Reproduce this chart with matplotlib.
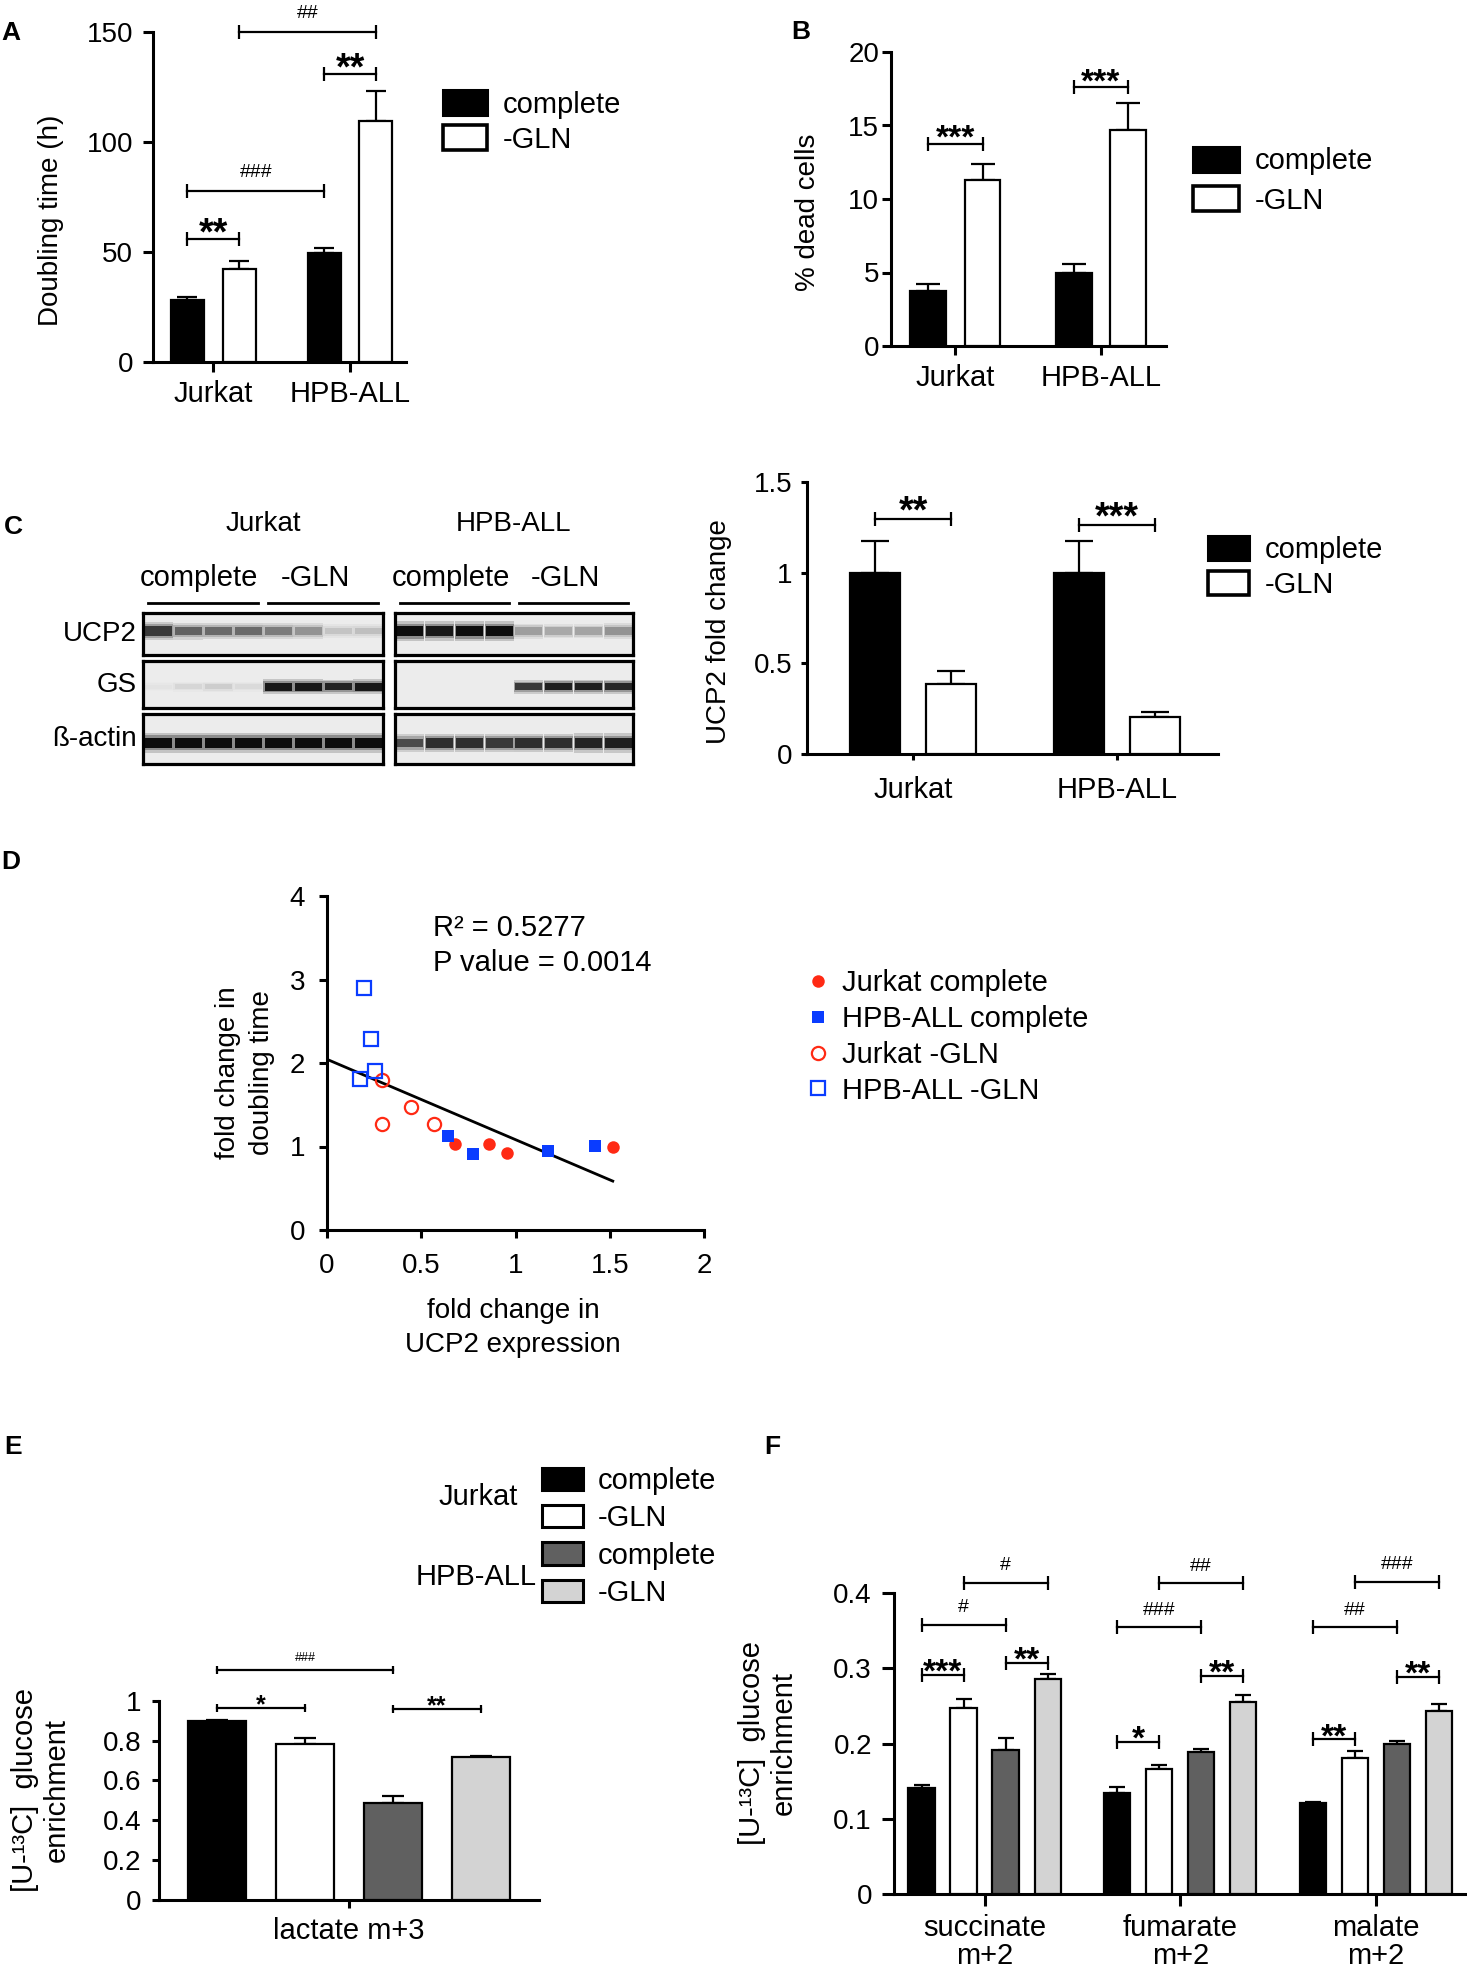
import numpy as np
import matplotlib
matplotlib.use('Agg')
import matplotlib.pyplot as plt
from matplotlib.patches import Patch
from matplotlib.lines import Line2D

plt.rcParams['font.family'] = ['Liberation Sans', 'DejaVu Sans']

W, H, DPI = 1467, 1972, 100

# ---------------- data ----------------
cell_lines = ['Jurkat', 'HPB-ALL']
condition_labels = ['complete', '-GLN']

# A: doubling time (h)
a_complete = [28.2, 49.5]
a_complete_err = [1.3, 2.3]
a_gln = [42.3, 109.5]
a_gln_err = [3.7, 13.5]
a_sig = [((0, 0), (0, 1), 56.0, '**'), ((0, 0), (1, 0), 77.7, '###'),
         ((0, 1), (1, 1), 150.0, '##'), ((1, 0), (1, 1), 131.0, '**')]
a_yticks = [0, 50, 100, 150]

# B: % dead cells
b_complete = [3.74, 5.0]
b_complete_err = [0.46, 0.6]
b_gln = [11.3, 14.7]
b_gln_err = [1.1, 1.8]
b_sig = [((0, 0), (0, 1), 13.75, '***'), ((1, 0), (1, 1), 17.6, '***')]
b_yticks = [0, 5, 10, 15, 20]

# C: UCP2 fold change
c_complete = [1.0, 1.0]
c_complete_err = [0.175, 0.175]
c_gln = [0.386, 0.204]
c_gln_err = [0.072, 0.028]
c_sig = [((0, 0), (0, 1), 1.296, '**'), ((1, 0), (1, 1), 1.263, '***')]
c_yticks = [0, 0.5, 1, 1.5]
c_yticklabels = ['0', '0.5', '1', '1.5']

# C: western blots, relative band intensity per lane (4 complete, 4 -GLN)
blot_proteins = ['UCP2', 'GS', 'ß-actin']
blot_jurkat = [[0.80, 0.62, 0.58, 0.58, 0.50, 0.40, 0.18, 0.20],
               [0.04, 0.10, 0.14, 0.08, 0.95, 0.95, 0.90, 0.95],
               [1.00, 1.00, 1.00, 1.00, 1.00, 1.00, 1.00, 1.00]]
blot_hpb = [[1.00, 0.95, 1.00, 1.00, 0.35, 0.30, 0.32, 0.40],
            [0.00, 0.00, 0.00, 0.00, 0.80, 0.92, 0.92, 0.88],
            [0.72, 0.85, 0.85, 0.80, 0.85, 0.85, 0.90, 0.92]]

# D: scatter, fold change UCP2 expression (x) vs doubling time (y)
d_jurkat_complete_x = [0.68, 0.857, 0.954, 1.516]
d_jurkat_complete_y = [1.024, 1.028, 0.924, 0.996]
d_hpb_complete_x = [0.641, 0.777, 1.17, 1.422]
d_hpb_complete_y = [1.124, 0.916, 0.944, 1.004]
d_jurkat_gln_x = [0.292, 0.445, 0.292, 0.569]
d_jurkat_gln_y = [1.793, 1.474, 1.267, 1.267]
d_hpb_gln_x = [0.194, 0.233, 0.256, 0.177]
d_hpb_gln_y = [2.896, 2.29, 1.90, 1.805]
d_fit_intercept = 2.044
d_fit_slope = -0.962
d_r2_text = 'R² = 0.5277'
d_p_text = 'P value = 0.0014'
d_xticks = [0, 0.5, 1, 1.5, 2]
d_xticklabels = ['0', '0.5', '1', '1.5', '2']
d_yticks = [0, 1, 2, 3, 4]

# E: lactate m+3 enrichment
e_labels = ['complete', '-GLN', 'complete', '-GLN']
e_values = [0.898, 0.781, 0.488, 0.719]
e_err = [0.005, 0.033, 0.035, 0.006]
e_sig = [(0, 1, 0.961, '*'), (2, 3, 0.956, '**'), (0, 2, 1.154, '###')]
e_yticks = [0, 0.2, 0.4, 0.6, 0.8, 1.0]
e_yticklabels = ['0', '0.2', '0.4', '0.6', '0.8', '1']

# F: TCA metabolites m+2 enrichment
f_metabolites = ['succinate\nm+2', 'fumarate\nm+2', 'malate\nm+2']
f_jurkat_complete = [0.1415, 0.1348, 0.1206]
f_jurkat_complete_err = [0.0035, 0.008, 0.0022]
f_jurkat_gln = [0.248, 0.1659, 0.1805]
f_jurkat_gln_err = [0.012, 0.0053, 0.0093]
f_hpb_complete = [0.1916, 0.1885, 0.1996]
f_hpb_complete_err = [0.0154, 0.0048, 0.0044]
f_hpb_gln = [0.286, 0.2559, 0.2435]
f_hpb_gln_err = [0.0067, 0.0093, 0.0093]
f_sig = [(0, 0, 1, 0.2913, '***'), (0, 2, 3, 0.3078, '**'), (0, 0, 2, 0.358, '#'), (0, 1, 3, 0.4142, '#'),
         (1, 0, 1, 0.2027, '*'), (1, 2, 3, 0.2905, '**'), (1, 0, 2, 0.3548, '###'), (1, 1, 3, 0.4133, '##'),
         (2, 0, 1, 0.2058, '**'), (2, 2, 3, 0.2891, '**'), (2, 0, 2, 0.3548, '##'), (2, 1, 3, 0.4155, '###')]
f_yticks = [0, 0.1, 0.2, 0.3, 0.4]
f_yticklabels = ['0', '0.1', '0.2', '0.3', '0.4']

# colours
C_BLACK, C_WHITE, C_DARK, C_LIGHT = 'black', 'white', '#606060', '#d3d3d3'
C_RED, C_BLUE = '#ff2a14', '#0a3cff'

# ---------------- figure ----------------
fig = plt.figure(figsize=(W / DPI, H / DPI), dpi=DPI)
ov = fig.add_axes([0, 0, 1, 1], zorder=-10)
ov.set_xlim(0, W)
ov.set_ylim(H, 0)
ov.axis('off')


def add_ax(x0, y0, x1, y1):
    return fig.add_axes([x0 / W, 1 - y1 / H, (x1 - x0) / W, (y1 - y0) / H])


def style_axes(ax, lw=2.2, ylen=7, ypad=6, xlen=7, xpad=6, ysize=20, xsize=21):
    for s in ('top', 'right'):
        ax.spines[s].set_visible(False)
    for s in ('left', 'bottom'):
        ax.spines[s].set_linewidth(lw)
    ax.tick_params(axis='y', width=lw, length=ylen, pad=ypad, labelsize=ysize, direction='out')
    ax.tick_params(axis='x', width=lw, length=xlen, pad=xpad, labelsize=xsize, direction='out')


def bracket(ax, x1, x2, y, text, tick_ms, fs_star, fs_hash, star_off=-4, hash_off=9):
    ax.plot([x1, x2], [y, y], color='black', lw=1.6, marker='|', ms=tick_ms, mew=1.6,
            clip_on=False, zorder=5)
    star = text.startswith('*')
    ax.annotate(text, xy=((x1 + x2) / 2, y), xytext=(0, star_off if star else hash_off),
                textcoords='offset points', ha='center', va='baseline',
                fontsize=fs_star if star else fs_hash,
                fontweight='bold' if star else 'normal', annotation_clip=False)


def grouped_pair(ax, comp, comp_err, gln, gln_err, off, width, capsize):
    xs = np.arange(len(cell_lines))
    series = [(comp, comp_err, C_BLACK), (gln, gln_err, C_WHITE)]
    for c, (vals, errs, fc) in enumerate(series):
        pos = xs + (c - 0.5) * 2 * off
        ax.errorbar(pos, vals, yerr=[np.zeros(len(vals)), errs], fmt='none', ecolor='black',
                    elinewidth=1.6, capsize=capsize, capthick=1.6, zorder=2)
        ax.bar(pos, vals, width=width, color=fc, edgecolor='black', linewidth=1.6, zorder=3,
               label=condition_labels[c])
    ax.set_xticks(xs)
    ax.set_xticklabels(cell_lines)
    return lambda g, c: g + (c - 0.5) * 2 * off


def place_legend(ax, handles, labels, x, y_top, hl, hh, htp, ls, fs=21):
    return ax.legend(handles, labels, loc='upper left', bbox_to_anchor=(x, y_top),
                     bbox_transform=ov.transData, frameon=False, borderpad=0, borderaxespad=0,
                     fontsize=fs, handlelength=hl, handleheight=hh, handletextpad=htp,
                     labelspacing=ls)


pair_handles = [Patch(facecolor=C_BLACK, edgecolor='black', linewidth=2.2),
                Patch(facecolor=C_WHITE, edgecolor='black', linewidth=2.6)]

# ---- panel A ----
axA = add_ax(153, 32, 406, 362)
style_axes(axA, ylen=7.2, ypad=7, xlen=7.2, xpad=6)
posA = grouped_pair(axA, a_complete, a_complete_err, a_gln, a_gln_err, 0.1886, 0.242, 7.4)
axA.set_xlim(-0.441, 1.41)
axA.set_ylim(0, 150)
axA.set_yticks(a_yticks)
for (g1, c1), (g2, c2), y, t in a_sig:
    bracket(axA, posA(g1, c1), posA(g2, c2), y, t, 10.5, 27, 14, star_off=-4.3, hash_off=10)
axA.set_ylabel('Doubling time (h)', fontsize=20, va='center', ha='center')
axA.yaxis.set_label_coords(51, 220, transform=ov.transData)
place_legend(axA, pair_handles, condition_labels, 443, 90, 1.5, 0.96, 0.55, 0.21)

# ---- panel B ----
axB = add_ax(891.5, 52, 1165.5, 346)
style_axes(axB, ylen=6.8, ypad=2, xlen=6.8, xpad=6)
posB = grouped_pair(axB, b_complete, b_complete_err, b_gln, b_gln_err, 0.1864, 0.2455, 8.8)
axB.set_xlim(-0.4395, 1.445)
axB.set_ylim(0, 20)
axB.set_yticks(b_yticks)
for (g1, c1), (g2, c2), y, t in b_sig:
    bracket(axB, posB(g1, c1), posB(g2, c2), y, t, 10.5, 24, 14, star_off=-3)
axB.set_ylabel('% dead cells', fontsize=20, va='center', ha='center')
axB.yaxis.set_label_coords(808, 212, transform=ov.transData)
place_legend(axB, pair_handles, condition_labels, 1193, 147, 1.58, 0.92, 0.53, 0.38)

# ---- panel C: bar chart ----
axC = add_ax(807, 482, 1218, 754)
style_axes(axC, ylen=4.5, ypad=6, xlen=4.5, xpad=11)
posC = grouped_pair(axC, c_complete, c_complete_err, c_gln, c_gln_err, 0.1877, 0.245, 10)
axC.set_xlim(-0.52, 1.495)
axC.set_ylim(0, 1.5)
axC.set_yticks(c_yticks)
axC.set_yticklabels(c_yticklabels)
for (g1, c1), (g2, c2), y, t in c_sig:
    bracket(axC, posC(g1, c1), posC(g2, c2), y, t, 10.5, 27, 14, star_off=-2.5)
axC.set_ylabel('UCP2 fold change', fontsize=20, va='center', ha='center')
axC.yaxis.set_label_coords(719, 632, transform=ov.transData)
place_legend(axC, pair_handles, condition_labels, 1207.6, 536, 1.42, 0.89, 0.53, 0.25)

# ---- panel C: western blots ----
blot_boxes_x = [(143, 383), (395, 633)]
blot_rows_y = [(613, 655), (661, 708), (714, 764)]
band_center = [0.57, 0.45, 0.42]
band_height = [0.24, 0.16, 0.20]
bg = 0.925
for (bx0, bx1), data, cname in zip(blot_boxes_x, [blot_jurkat, blot_hpb], cell_lines):
    for r, ((ry0, ry1), inten) in enumerate(zip(blot_rows_y, data)):
        axb = add_ax(bx0, ry0, bx1, ry1)
        axb.set_facecolor((bg, bg, bg))
        v = np.array(inten)
        lanes = np.arange(len(v))
        g = bg * (1 - v) + 0.05 * v
        cols = [(x, x, x) for x in g]
        hh = band_height[r] * (0.6 + 0.4 * v)
        for scale, alpha in ((2.0, 0.18), (1.5, 0.3), (1.0, 1.0)):
            axb.bar(lanes, hh * scale, bottom=band_center[r] - hh * scale / 2,
                    width=0.97 if scale > 1 else 0.9, color=cols, alpha=alpha, linewidth=0)
        axb.set_xlim(-0.5, len(v) - 0.5)
        axb.set_ylim(0, 1)
        axb.set_xticks([])
        axb.set_yticks([])
        for s in axb.spines.values():
            s.set_linewidth(2.3)
    half = (bx1 - bx0) / 2
    ov.plot([bx0 + 5, bx0 + half - 5], [603, 603], color='black', lw=2)
    ov.plot([bx0 + half + 5, bx1 - 5], [603, 603], color='black', lw=2)
    ov.text(bx0 + half / 2 - 4, 578, condition_labels[0], ha='center', va='center', fontsize=21)
    ov.text(bx0 + 1.5 * half - 8, 578, condition_labels[1], ha='center', va='center', fontsize=21)
    ov.text((bx0 + bx1) / 2, 524, cname, ha='center', va='center', fontsize=20)
for (ry0, ry1), name in zip(blot_rows_y, blot_proteins):
    ov.text(137, (ry0 + ry1) / 2, name, ha='right', va='center', fontsize=20)

# ---- panel D ----
axD = add_ax(327, 896, 704, 1230)
style_axes(axD, ylen=5.8, ypad=10, xlen=5.8, xpad=11, ysize=20, xsize=20)
axD.plot(d_jurkat_complete_x, d_jurkat_complete_y, 'o', color=C_RED, ms=9, mew=0,
         label='Jurkat complete', clip_on=False, zorder=4)
axD.plot(d_hpb_complete_x, d_hpb_complete_y, 's', color=C_BLUE, ms=9, mew=0,
         label='HPB-ALL complete', clip_on=False, zorder=4)
axD.plot(d_jurkat_gln_x, d_jurkat_gln_y, 'o', mfc='none', mec=C_RED, ms=9.5, mew=1.6,
         label='Jurkat -GLN', clip_on=False, zorder=4)
axD.plot(d_hpb_gln_x, d_hpb_gln_y, 's', mfc='none', mec=C_BLUE, ms=9.5, mew=1.6,
         label='HPB-ALL -GLN', clip_on=False, zorder=4)
all_x = d_jurkat_complete_x + d_hpb_complete_x + d_jurkat_gln_x + d_hpb_gln_x
xfit = np.array([0.0, max(all_x)])
axD.plot(xfit, d_fit_intercept + d_fit_slope * xfit, color='black', lw=2, zorder=3)
axD.set_xlim(0, 2)
axD.set_ylim(0, 4)
axD.set_xticks(d_xticks)
axD.set_xticklabels(d_xticklabels)
axD.set_yticks(d_yticks)
axD.text(433, 928, d_r2_text, transform=ov.transData, ha='left', va='center', fontsize=21)
axD.text(433, 963, d_p_text, transform=ov.transData, ha='left', va='center', fontsize=21)
axD.set_ylabel('fold change in\ndoubling time', fontsize=20, va='center', ha='center',
               linespacing=1.4)
axD.yaxis.set_label_coords(245, 1073, transform=ov.transData)
axD.set_xlabel('fold change in\nUCP2 expression', fontsize=20, va='center', ha='center',
               linespacing=1.35)
axD.xaxis.set_label_coords(513, 1328, transform=ov.transData)
hD, lD = axD.get_legend_handles_labels()
place_legend(axD, hD[:4], lD[:4], 806, 969, 0.8, 0.7, 0.42, 0.27)

# ---- panel E ----
axE = add_ax(159, 1700.7, 539, 1900)
style_axes(axE, ylen=5.4, ypad=7, xlen=5.4, xpad=6.5)
e_colors = [C_BLACK, C_WHITE, C_DARK, C_LIGHT]
e_pos = np.arange(len(e_values)) - 1.5
axE.errorbar(e_pos, e_values, yerr=[np.zeros(len(e_err)), e_err], fmt='none', ecolor='black',
             elinewidth=1.6, capsize=8, capthick=1.6, zorder=2)
barsE = axE.bar(e_pos, e_values, width=0.65, color=e_colors, edgecolor='black', linewidth=1.6,
                zorder=3)
axE.set_xlim(-2.16, 2.16)
axE.set_ylim(0, 1)
axE.set_yticks(e_yticks)
axE.set_yticklabels(e_yticklabels)
axE.set_xticks([0])
axE.set_xticklabels(['lactate m+3'])
for i1, i2, y, t in e_sig:
    bracket(axE, e_pos[i1], e_pos[i2], y, t, 6, 18, 9, star_off=-3, hash_off=6.5)
axE.set_ylabel('[U-¹³C]  glucose\nenrichment', fontsize=21, va='center', ha='center',
               linespacing=1.15)
axE.yaxis.set_label_coords(41, 1790, transform=ov.transData)
e_handles = [Patch(facecolor=c, edgecolor='black', linewidth=2.2) for c in e_colors]
place_legend(axE, e_handles, e_labels, 542, 1467, 1.4, 0.79, 0.51, 0.32)
axE.text(478, 1497, cell_lines[0], transform=ov.transData, ha='center', va='center', fontsize=21)
axE.text(476, 1577, cell_lines[1], transform=ov.transData, ha='center', va='center', fontsize=21)

# ---- panel F ----
axF = add_ax(893.6, 1593.3, 1465.6, 1894)
style_axes(axF, ylen=8.6, ypad=7, xlen=8.6, xpad=5.5)
f_series = [(f_jurkat_complete, f_jurkat_complete_err, C_BLACK),
            (f_jurkat_gln, f_jurkat_gln_err, C_WHITE),
            (f_hpb_complete, f_hpb_complete_err, C_DARK),
            (f_hpb_gln, f_hpb_gln_err, C_LIGHT)]
f_step, f_width = 0.2146, 0.133
xsF = np.arange(len(f_metabolites))
for k, (vals, errs, col) in enumerate(f_series):
    pos = xsF + (k - 1.5) * f_step
    axF.errorbar(pos, vals, yerr=[np.zeros(len(vals)), errs], fmt='none', ecolor='black',
                 elinewidth=1.6, capsize=5.6, capthick=1.6, zorder=2)
    axF.bar(pos, vals, width=f_width, color=col, edgecolor='black', linewidth=1.6, zorder=3)
axF.set_xlim(-0.4645, 2.458)
axF.set_ylim(0, 0.4)
axF.set_yticks(f_yticks)
axF.set_yticklabels(f_yticklabels)
axF.set_xticks(xsF)
axF.set_xticklabels(f_metabolites, linespacing=1.0)
for g, k1, k2, y, t in f_sig:
    bracket(axF, g + (k1 - 1.5) * f_step, g + (k2 - 1.5) * f_step, y, t, 9.6, 24, 14,
            star_off=-5, hash_off=9)
axF.set_ylabel('[U-¹³C]  glucose\nenrichment', fontsize=21, va='center', ha='center',
               linespacing=1.15)
axF.yaxis.set_label_coords(768, 1743, transform=ov.transData)

# ---- panel letters ----
for letter, (px, py) in zip('ABCDEF', [(11, 33), (801, 32), (13, 527), (11, 862), (13, 1447),
                                      (772, 1447)]):
    ov.text(px, py, letter, ha='center', va='center', fontsize=19, fontweight='bold')

fig.savefig('out.png', dpi=DPI)
